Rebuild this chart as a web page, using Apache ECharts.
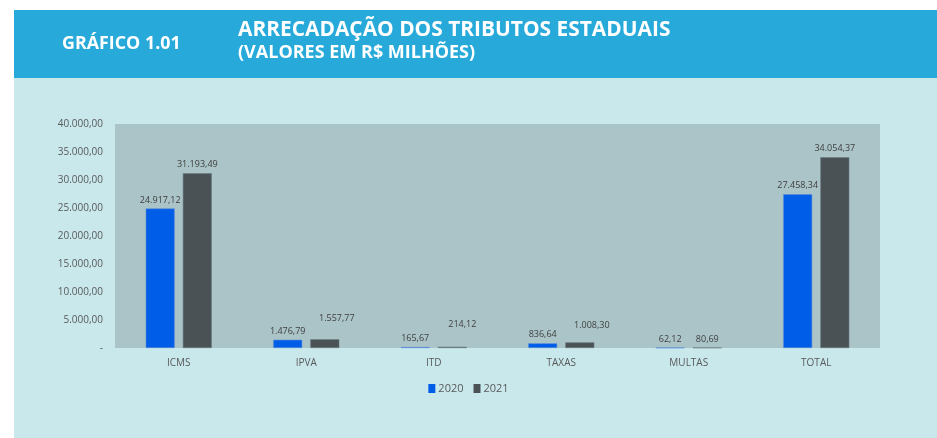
<!DOCTYPE html>
<html>
<head>
<meta charset="utf-8">
<script src="https://cdn.jsdelivr.net/npm/echarts@6/dist/echarts.min.js"></script>
<style>
  html, body { margin: 0; padding: 0; background: #fff; }
  #chart { width: 937px; height: 438px; }
</style>
</head>
<body>
<div id="chart"></div>
<script>
// dados do gráfico
var categorias = ['ICMS', 'IPVA', 'ITD', 'TAXAS', 'MULTAS', 'TOTAL'];
var valores2020 = [24917.12, 1476.79, 165.67, 836.64, 62.12, 27458.34];
var valores2021 = [31193.49, 1557.77, 214.12, 1008.30, 80.69, 34054.37];
var seriesNomes = ['2020', '2021'];

// deslocamento manual de alguns rótulos de 2021 (como no Excel)
var deslocRotulo2021 = [[0, 0], [12, -12], [10, -14], [12, -8], [0, 0], [0, 0]];

var cores = ['#005DE8', '#4A5255'];

function fmtBR(v) {
  if (v === 0) return '-';
  return v.toLocaleString('pt-BR', { minimumFractionDigits: 2, maximumFractionDigits: 2 });
}

var myChart = echarts.init(document.getElementById('chart'));

myChart.setOption({
  backgroundColor: '#ffffff',
  animation: false,
  color: cores,
  textStyle: { fontFamily: 'Open Sans' },
  graphic: [
    { type: 'rect', shape: { x: 14, y: 10, width: 923, height: 68 }, style: { fill: '#27AADA' }, z: -10 },
    { type: 'rect', shape: { x: 14, y: 78, width: 923, height: 360 }, style: { fill: '#C9E8EC' }, z: -10 },
    { type: 'text', x: 62, y: 36, scaleX: 1.05, style: { text: 'GRÁFICO 1.01', fill: '#fff', font: 'bold 17px "Open Sans"' } },
    { type: 'text', x: 238, y: 19, scaleX: 0.95, style: { text: 'ARRECADAÇÃO DOS TRIBUTOS ESTADUAIS', fill: '#fff', font: 'bold 22px "Open Sans"' } },
    { type: 'text', x: 238, y: 44, style: { text: '(VALORES EM R$ MILHÕES)', fill: '#fff', font: 'bold 18px "Open Sans"' } }
  ],
  legend: {
    data: seriesNomes,
    left: 'center',
    top: 378,
    icon: 'rect',
    itemWidth: 7,
    itemHeight: 9,
    itemGap: 10,
    itemStyle: { borderWidth: 0 },
    textStyle: { color: '#595959', fontSize: 11, padding: [0, 0, 0, -2] }
  },
  grid: {
    left: 115, right: 57, top: 124, bottom: 90,
    show: true, backgroundColor: '#AAC4C7', borderWidth: 0
  },
  xAxis: {
    type: 'category',
    data: categorias,
    axisLine: { show: false },
    axisTick: { show: false },
    axisLabel: { color: '#595959', fontSize: 10, margin: 10 }
  },
  yAxis: {
    type: 'value',
    min: 0, max: 40000, interval: 5000,
    splitLine: { show: false },
    axisLine: { show: false },
    axisTick: { show: false },
    axisLabel: { color: '#595959', fontSize: 10, margin: 12, formatter: fmtBR }
  },
  series: [
    {
      name: seriesNomes[0],
      type: 'bar',
      data: valores2020,
      barWidth: 29,
      barGap: '28%',
      itemStyle: { color: cores[0], borderColor: '#5B8DD6', borderWidth: 0.6 },
      label: { show: true, position: 'top', distance: 4, color: '#404040', fontSize: 9, formatter: function (p) { return fmtBR(p.value); } }
    },
    {
      name: seriesNomes[1],
      type: 'bar',
      data: valores2021.map(function (v, i) {
        return { value: v, label: { offset: deslocRotulo2021[i] } };
      }),
      barWidth: 29,
      barGap: '28%',
      itemStyle: { color: cores[1], borderColor: '#6A7B80', borderWidth: 0.6 },
      label: { show: true, position: 'top', distance: 4, color: '#404040', fontSize: 9, formatter: function (p) { return fmtBR(p.value); } }
    }
  ]
});
</script>
</body>
</html>
